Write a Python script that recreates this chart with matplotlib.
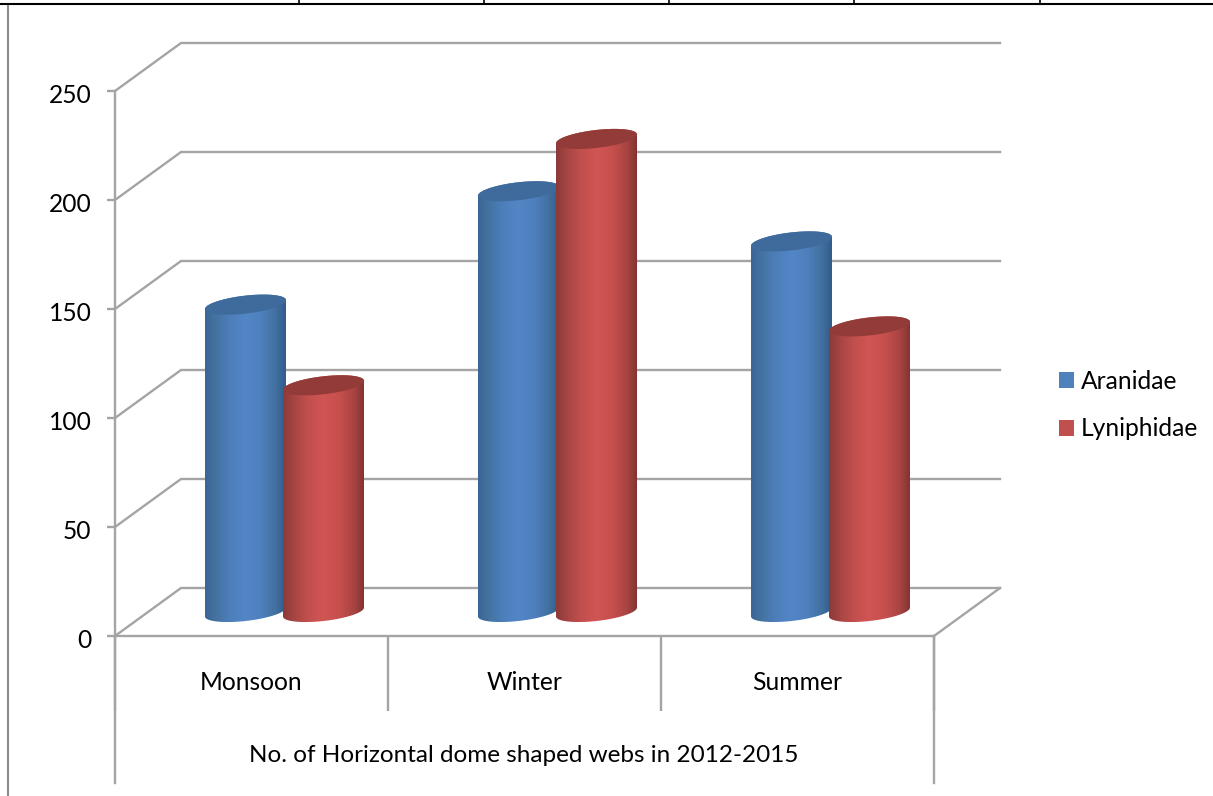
import numpy as np
import matplotlib
matplotlib.use("Agg")
import matplotlib.pyplot as plt
from matplotlib.lines import Line2D
from matplotlib.patches import Patch, PathPatch, Polygon
from matplotlib.path import Path
from matplotlib.colors import LinearSegmentedColormap
from matplotlib.transforms import ScaledTranslation

plt.rcParams['font.family'] = ['Lato', 'DejaVu Sans']

categories = ['Monsoon', 'Winter', 'Summer']
aranidae = [141, 193, 170]
lyniphidae = [104, 217, 131]
y_ticks = [0, 50, 100, 150, 200, 250]
series_names = ['Aranidae', 'Lyniphidae']
axis_title = 'No. of Horizontal dome shaped webs in 2012-2015'

W, H = 1213, 796
PX_X = 273.0          # pixels per category
PX_Y = 545.0 / 250.0  # pixels per value unit
X0, Y0 = 115, 636     # pixel position of the axes origin
GRID = '#a4a4a4'
FS = 17.7

fig = plt.figure(figsize=(W / 100, H / 100), dpi=100, facecolor='white')
ax = fig.add_axes([X0 / W, 0, 1 - X0 / W, 1])
ax.set_xlim(0, (W - X0) / PX_X)
ax.set_ylim(-(H - Y0) / PX_Y, Y0 / PX_Y)
ax.patch.set_alpha(0)

DX, DY = 66 / PX_X, 48 / PX_Y   # depth of the 3-D floor
n = len(categories)

# walls / gridlines
for v in y_ticks:
    ax.plot([0, DX, n + DX], [v, v + DY, v + DY], color=GRID, lw=1.7, zorder=1,
            solid_joinstyle='miter', clip_on=False)
ax.plot([n, n + DX], [0, DY], color=GRID, lw=1.7, zorder=1)

# axes
for s in ['top', 'right']:
    ax.spines[s].set_visible(False)
ax.spines['left'].set_bounds(0, y_ticks[-1])
ax.spines['bottom'].set_position(('data', 0))
ax.spines['bottom'].set_bounds(0, n)
for s in ['left', 'bottom']:
    ax.spines[s].set_color(GRID)
    ax.spines[s].set_linewidth(1.7)
ax.set_yticks(y_ticks)
ax.tick_params(axis='y', length=6, width=1.7, color=GRID, pad=11, labelsize=FS)
shift = ScaledTranslation(0, -2.5 / 100, fig.dpi_scale_trans)
for lab in ax.get_yticklabels():
    lab.set_transform(lab.get_transform() + shift)
ax.set_xticks(range(n + 1))
ax.set_xticklabels([])
ax.tick_params(axis='x', which='major', length=54, width=1.7, color=GRID)
ax.set_xticks(np.arange(n) + 0.5, minor=True)
ax.set_xticklabels(categories, minor=True, fontsize=FS)
ax.tick_params(axis='x', which='minor', length=0, pad=25)
for tx in (0, n):
    ax.plot([tx, tx], [0, -147 / PX_Y], color=GRID, lw=1.7, zorder=1, clip_on=False)
ax.text(n / 2 - 0.003, -119 / PX_Y, axis_title, ha='center', va='center', fontsize=17.45)

blue = LinearSegmentedColormap.from_list('b', [(0, '#3a6596'), (0.12, '#44729f'), (0.3, '#4c7eba'),
                                               (0.5, '#5386c6'), (0.7, '#4e80bd'), (0.88, '#41709f'), (1, '#305b8b')])
red = LinearSegmentedColormap.from_list('r', [(0, '#8c3a38'), (0.12, '#a34442'), (0.3, '#c04f4d'),
                                              (0.5, '#d05553'), (0.7, '#c64f4d'), (0.88, '#a84442'), (1, '#823432')])
CAP = {'b': '#3f6a9c', 'r': '#933b39'}

A, B, K = 40.5, 9.0, 0.11   # cylinder half width, ellipse half height and tilt (px)
t = np.linspace(0, 2 * np.pi, 121)


def ell(cx, cy, t):
    return cx + A / PX_X * np.cos(t), cy + (K * A * np.cos(t) + B * np.sin(t)) / PX_Y


def cylinder(cx, value, cmap, cap, z):
    base = DY / 2
    top = base + value
    tb = np.linspace(np.pi, 2 * np.pi, 61)
    bx, by = ell(cx, base, tb)
    tt = np.linspace(0, np.pi, 61)
    ux, uy = ell(cx, top, tt)
    verts = np.r_[np.c_[bx, by], np.c_[ux, uy], [[bx[0], by[0]]]]
    grad = np.linspace(0, 1, 256)[None, :]
    im = ax.imshow(grad, cmap=cmap, aspect='auto', zorder=z, interpolation='bilinear',
                   extent=(cx - A / PX_X, cx + A / PX_X, base - 20 / PX_Y, top + 20 / PX_Y))
    im.set_clip_path(PathPatch(Path(verts), transform=ax.transData))
    cxs, cys = ell(cx, top, t)
    ax.add_patch(Polygon(np.c_[cxs, cys], closed=True, fc=cap, ec='none', zorder=z + 0.1))


OFF = 39 / PX_X
for i in range(n):
    c = i + 0.5 + DX / 2
    cylinder(c - OFF, aranidae[i], blue, CAP['b'], 3 + i)
    cylinder(c + OFF, lyniphidae[i], red, CAP['r'], 3.5 + i)

ax.set_xlim(0, (W - X0) / PX_X)
ax.set_ylim(-(H - Y0) / PX_Y, Y0 / PX_Y)

handles = [Patch(fc='#4f81bd', ec='none'), Patch(fc='#c0504d', ec='none')]
fig.legend(handles, series_names, loc='center left', bbox_to_anchor=(1036.5 / W, 1 - 405 / H),
           frameon=False, fontsize=FS, handlelength=0.62, handleheight=0.62,
           handletextpad=0.27, labelspacing=1.0, borderpad=0.4)


def fline(xs, ys, **kw):
    fig.add_artist(Line2D(np.array(xs) / W, 1 - np.array(ys) / H, **kw))


# surrounding frame of the page table
fline([8, 8], [5, 796], color='#8c8c8c', lw=1.5)
fline([0, W], [4, 4], color='black', lw=1.5)
for px in [299, 484, 669, 854, 1040]:
    fline([px, px], [0, 4], color='black', lw=1.2)

fig.savefig('out.png', dpi=100)
